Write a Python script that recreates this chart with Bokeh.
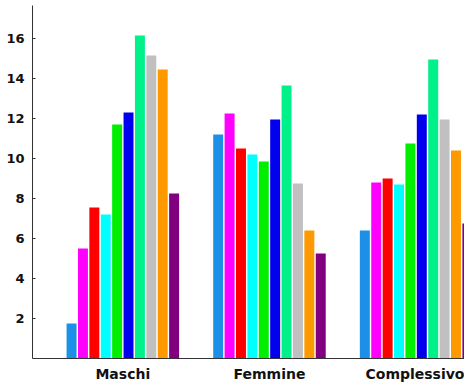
from bokeh.plotting import figure
from bokeh.models import ColumnDataSource, FixedTicker, Range1d
from bokeh.embed import file_html
from bokeh.resources import INLINE

groups = ["Maschi", "Femmine", "Complessivo"]
series_colors = ["#1c8fe6", "#ff00ff", "#ff0000", "#00ffff", "#00ee00",
                 "#0000ee", "#00f08a", "#c0c0c0", "#ff9900", "#800080"]
# values per series (one list per colour), for Maschi, Femmine, Complessivo
s1 = [1.75, 11.2, 6.4]
s2 = [5.5, 12.25, 8.8]
s3 = [7.55, 10.5, 9.0]
s4 = [7.2, 10.2, 8.7]
s5 = [11.7, 9.85, 10.75]
s6 = [12.3, 11.95, 12.2]
s7 = [16.15, 13.65, 14.95]
s8 = [15.15, 8.75, 11.95]
s9 = [14.45, 6.4, 10.4]
s10 = [8.25, 5.25, 6.75]
series = [s1, s2, s3, s4, s5, s6, s7, s8, s9, s10]
y_ticks = [2, 4, 6, 8, 10, 12, 14, 16]

p = figure(width=464, height=384, output_backend="svg", toolbar_location=None,
           x_range=Range1d(0.384, 3.33), y_range=Range1d(0, 17.65),
           min_border_left=32, min_border_right=0, min_border_top=5,
           min_border_bottom=0)
p.background_fill_color = "white"
p.border_fill_color = "white"
p.outline_line_color = None
p.grid.visible = False

pitch = 0.0777
bw = 0.068
n = len(series)
xs_base = list(range(1, len(groups) + 1))
for i, (vals, col) in enumerate(zip(series, series_colors)):
    off = (i - (n - 1) / 2) * pitch
    src = ColumnDataSource(dict(x=[x + off for x in xs_base], top=vals))
    p.vbar(x="x", top="top", width=bw, bottom=0, source=src,
           fill_color=col, line_color=None)

p.yaxis.ticker = FixedTicker(ticks=y_ticks)
p.yaxis.major_tick_in = 3
p.yaxis.major_tick_out = 0
p.yaxis.minor_tick_line_color = None
p.yaxis.axis_line_color = "#333333"
p.yaxis.major_tick_line_color = "#333333"
p.yaxis.major_label_text_font = "DejaVu Sans"
p.yaxis.major_label_text_font_style = "bold"
p.yaxis.major_label_text_font_size = "13px"
p.yaxis.major_label_text_color = "#111111"
p.yaxis.major_label_standoff = 8

p.xaxis.ticker = FixedTicker(ticks=xs_base)
p.xaxis.major_label_overrides = {x: g for x, g in zip(xs_base, groups)}
p.xaxis.major_tick_line_color = None
p.xaxis.major_tick_in = 0
p.xaxis.major_tick_out = 0
p.xaxis.minor_tick_line_color = None
p.xaxis.axis_line_color = "#333333"
p.xaxis.major_label_text_font = "DejaVu Sans"
p.xaxis.major_label_text_font_style = "bold"
p.xaxis.major_label_text_font_size = "14px"
p.xaxis.major_label_text_color = "#111111"
p.xaxis.major_label_standoff = 7

open("out.html", "w").write(file_html(p, INLINE))
